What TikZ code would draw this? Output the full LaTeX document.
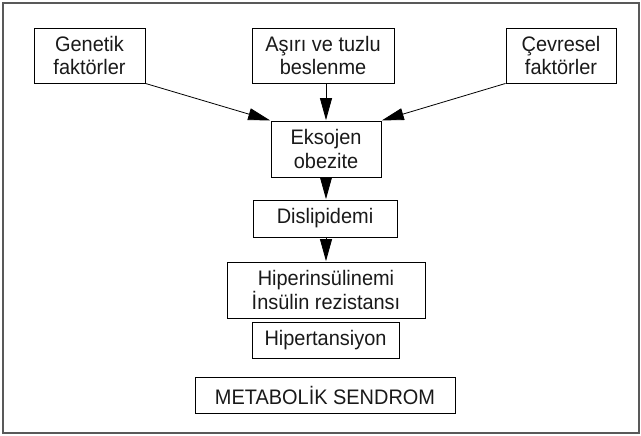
\documentclass[tikz,border=0pt]{standalone}
\usepackage{fontspec}
\setmainfont{Liberation Sans}[FakeStretch=0.95]
\usetikzlibrary{arrows.meta}

\tikzset{
	kutu/.style={draw=black, line width=0.9pt, align=center, inner sep=0pt,
		font=\fontsize{21}{23.5}\selectfont, text=black!90},
	ok/.style={line width=0.8pt, -{Triangle[length=22pt, width=12pt]}, shorten >=0.4pt}
}

\begin{document}
\begin{tikzpicture}[x=1pt, y=-1pt]
	\useasboundingbox (0,0) rectangle (641,436);
	\draw [line width=1.2pt, gray!70!black] (3,3) rectangle (639,433);
	% ust siradaki kutular
	\node [kutu, minimum width=111pt, minimum height=55pt] (genetik) at (89.5,55.5) {Genetik\\faktörler};
	\node [kutu, minimum width=142pt, minimum height=55pt] (asiri) at (323,55.5) {Aşırı ve tuzlu\\beslenme};
	\node [kutu, minimum width=110pt, minimum height=55pt] (cevre) at (561,55.5) {Çevresel\\faktörler};
	% orta sutun
	\node [kutu, minimum width=110pt, minimum height=56pt] (eksojen) at (326,149) {Eksojen\\obezite};
	\node [kutu, minimum width=144pt, minimum height=37pt] (dislip) at (325,218.5) {Dislipidemi};
	\node [kutu, minimum width=198pt, minimum height=56pt] (hiperins) at (326,290) {Hiperinsülinemi\\İnsülin rezistansı};
	\node [kutu, minimum width=147pt, minimum height=36pt] (hipert) at (325.5,340) {Hipertansiyon};
	\node [kutu, minimum width=260pt, minimum height=36pt] (metsen) at (325,395) {METABOLİK SENDROM};
	% oklar
	\draw [ok] (genetik.south east) -- (eksojen.north west);
	\draw [ok] (cevre.south west) -- (eksojen.north east);
	\draw [ok] (asiri.south -| eksojen.north) -- (eksojen.north);
	\draw [ok] (eksojen.south) -- (dislip.north -| eksojen.south);
	\draw [ok] (dislip.south -| eksojen.south) -- (hiperins.north -| eksojen.south);
\end{tikzpicture}
\end{document}
